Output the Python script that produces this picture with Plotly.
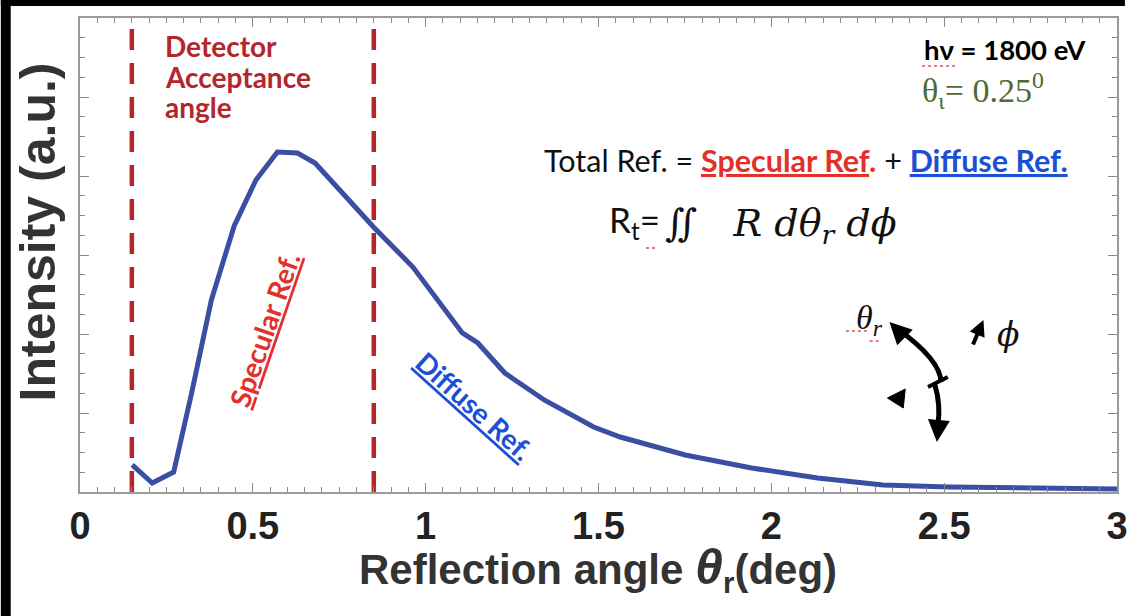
import plotly.graph_objects as go

# ---- data ----
theta_r = [0.151, 0.209, 0.271, 0.323, 0.38, 0.446, 0.509, 0.571, 0.629, 0.68,
           0.849, 0.963, 1.106, 1.151, 1.229, 1.343, 1.486, 1.563, 1.751, 1.943,
           2.134, 2.323, 2.514, 3.0]
intensity = [0.342, 0.114, 0.253, 1.253, 2.43, 3.367, 3.949, 4.304, 4.291, 4.165,
             3.354, 2.848, 2.013, 1.886, 1.506, 1.165, 0.823, 0.696, 0.468, 0.304,
             0.177, 0.089, 0.063, 0.038]
acceptance_limits = [0.15, 0.85]
x_ticks = [0, 0.5, 1, 1.5, 2, 2.5, 3]
x_ticklabels = ["0", "0.5", "1", "1.5", "2", "2.5", "3"]
detector_lines = ["Detector", "Acceptance", "angle"]

W, H = 1136, 616
L, R, T, B = 80, 8, 18, 124
PW, PH = W - L - R, H - T - B


def X(px):
    return (px - L) / PW


def Y(py):
    return (H - B - py) / PH


fig = go.Figure()

for a in acceptance_limits:
    fig.add_trace(go.Scatter(x=[a, a], y=[0, 6], mode="lines",
                             line=dict(color="#b3262c", width=4.5, dash="21px,13px"),
                             hoverinfo="skip"))

fig.add_trace(go.Scatter(x=theta_r, y=intensity, mode="lines",
                         line=dict(color="#3a4ea3", width=5)))

axis_common = dict(showline=True, linecolor="#9a9a9a", linewidth=1.5, mirror="ticks",
                   ticks="inside", tickcolor="#8a8a8a", showgrid=False, zeroline=False)

fig.update_xaxes(range=[0, 3], tickvals=x_ticks, ticktext=x_ticklabels, ticklen=9,
                 ticklabeloverflow="allow",
                 minor=dict(dtick=0.05, ticks="inside", ticklen=5, tickcolor="#8a8a8a"),
                 tickfont=dict(family="Liberation Sans", size=38, color="#222222", weight="bold"),
                 **axis_common)
fig.update_yaxes(range=[0, 6], dtick=1, ticklen=9, showticklabels=False,
                 minor=dict(dtick=0.25, ticks="inside", ticklen=5, tickcolor="#8a8a8a"),
                 **axis_common)

ann = []
ann.append(dict(text="Reflection angle <span style='font-size:50px'><i>θ</i></span>"
                     "<sub>r</sub>(deg)",
                x=X(603), y=Y(569), xref="paper", yref="paper", xanchor="center", yanchor="middle",
                showarrow=False,
                font=dict(family="Liberation Sans", size=42, color="#333333", weight="bold")))
ann.append(dict(text="Intensity (a.u.)", x=X(38), y=Y(232), xref="paper", yref="paper",
                xanchor="center", yanchor="middle",
                textangle=-90, showarrow=False,
                font=dict(family="Liberation Sans", size=50, color="#333333", weight="bold")))
for i, line in enumerate(detector_lines):
    ann.append(dict(text=line, x=X(164), y=Y(46 + 30.5 * i), xref="paper", yref="paper",
                    xanchor="left", yanchor="middle", showarrow=False,
                    font=dict(family="Lato", size=28, color="#b3262c", weight="bold")))
ann.append(dict(text="<u>Specular Ref.</u>", x=X(266), y=Y(330), xref="paper", yref="paper",
                xanchor="center", yanchor="middle",
                textangle=-71, showarrow=False,
                font=dict(family="Lato", size=28, color="#e3302a", weight="bold")))
ann.append(dict(text="<u>Diffuse Ref.</u>", x=X(479), y=Y(406), xref="paper", yref="paper",
                xanchor="center", yanchor="middle",
                textangle=42, showarrow=False,
                font=dict(family="Lato", size=28, color="#1b4fd6", weight="bold")))
ann.append(dict(text="Total Ref. = <span style='color:#e3302a'><b><u>Specular Ref</u>.</b></span> + "
                     "<span style='color:#1b4fd6'><b><u>Diffuse Ref.</u></b></span>",
                x=X(547), y=Y(160), xref="paper", yref="paper", xanchor="left", yanchor="middle",
                showarrow=False,
                font=dict(family="Lato", size=30.5, color="#111111")))
ann.append(dict(text="R<sub>t</sub>=", x=X(668), y=Y(222), xref="paper", yref="paper",
                xanchor="right", yanchor="middle", showarrow=False,
                font=dict(family="Lato", size=35, color="#111111")))
ann.append(dict(text="∬   <i>R dθ<sub>r</sub> dϕ</i>", x=X(669), y=Y(225), xref="paper", yref="paper",
                xanchor="left", yanchor="middle", showarrow=False,
                font=dict(family="DejaVu Serif", size=38, color="#111111")))
ann.append(dict(text="hν = 1800 eV", x=X(1099), y=Y(50), xref="paper", yref="paper",
                xanchor="right", yanchor="middle", showarrow=False,
                font=dict(family="Lato", size=27.5, color="#000000", weight="bold")))
ann.append(dict(text="θ<sub>ι</sub>= 0.25<sup>0</sup>", x=X(929), y=Y(90), xref="paper", yref="paper",
                xanchor="left", yanchor="middle", showarrow=False,
                font=dict(family="Liberation Serif", size=34, color="#4d6b32")))
ann.append(dict(text="<i>θ<sub>r</sub></i>", x=X(878), y=Y(320), xref="paper", yref="paper",
                xanchor="center", yanchor="middle",
                showarrow=False, font=dict(family="Liberation Serif", size=34, color="#111111")))
ann.append(dict(text="<i>ϕ</i>", x=X(1018), y=Y(335), xref="paper", yref="paper",
                xanchor="center", yanchor="middle",
                showarrow=False, font=dict(family="DejaVu Serif", size=33, color="#111111")))
# arrowheads of the angle diagram
for tip, tail, size in [((898, 322), (14, 14), 1.1), ((946, 442), (2, -22), 1.1),
                        ((993, 320), (-11, 26), 0.8)]:
    ann.append(dict(text="", x=X(tip[0]), y=Y(tip[1]), xref="paper", yref="paper",
                    ax=tail[0], ay=tail[1], showarrow=True, arrowhead=2, arrowsize=size,
                    arrowwidth=4, arrowcolor="#000000"))

shapes = []
# curved arc of the angle diagram
shapes.append(dict(type="path", xref="paper", yref="paper",
                   path=f"M {X(905)},{Y(328)} Q {X(950)},{Y(360)} {X(950)},{Y(382)}",
                   line=dict(color="#000000", width=5)))
shapes.append(dict(type="path", xref="paper", yref="paper",
                   path=f"M {X(944)},{Y(385)} Q {X(950)},{Y(405)} {X(947)},{Y(425)}",
                   line=dict(color="#000000", width=5)))
shapes.append(dict(type="line", xref="paper", yref="paper",
                   x0=X(937), y0=Y(387), x1=X(957), y1=Y(377),
                   line=dict(color="#000000", width=4)))
shapes.append(dict(type="path", xref="paper", yref="paper",
                   path=f"M {X(896)},{Y(398)} L {X(914)},{Y(389)} L {X(912)},{Y(408)} Z",
                   fillcolor="#000000", line=dict(color="#000000", width=1)))
# red spell-check squiggles of the original slide
for x0, x1, yy in [(931, 966, 66), (854, 876, 331), (878, 889, 341), (652, 664, 248)]:
    shapes.append(dict(type="line", xref="paper", yref="paper",
                       x0=X(x0), y0=Y(yy), x1=X(x1), y1=Y(yy),
                       line=dict(color="#e05050", width=1.5, dash="dot")))
# black borders of the picture
shapes.append(dict(type="rect", xref="paper", yref="paper", x0=X(0), x1=X(10), y0=Y(H), y1=Y(0),
                   fillcolor="#000000", line=dict(width=0)))
shapes.append(dict(type="rect", xref="paper", yref="paper", x0=X(0), x1=X(W), y0=Y(6), y1=Y(0),
                   fillcolor="#000000", line=dict(width=0)))

fig.update_layout(width=W, height=H, margin=dict(l=L, r=R, t=T, b=B),
                  paper_bgcolor="#ffffff", plot_bgcolor="#ffffff", showlegend=False,
                  annotations=ann, shapes=shapes)

fig.write_html("out.html")
